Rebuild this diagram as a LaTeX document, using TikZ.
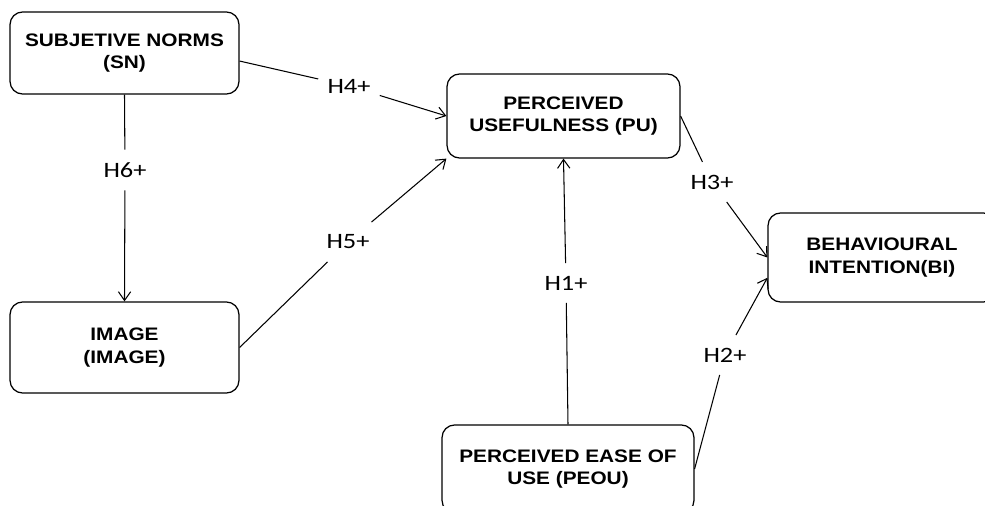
\documentclass[tikz,border=0pt]{standalone}
\usepackage{fontspec}
\setmainfont{Liberation Sans}[FakeStretch=1.15]
\newfontfamily\hypfont{Carlito}[FakeStretch=1.2]
\usetikzlibrary{arrows.meta}
\tikzset{
    construct/.style={draw,rounded corners=0.25cm,line width=0.7pt,inner sep=0pt,
        align=center,font=\fontsize{10.3}{13}\selectfont\bfseries},
    hyp/.style={inner xsep=5pt,inner ysep=7pt,font=\hypfont\fontsize{12.5}{14}\selectfont}
}
\begin{document}
\begin{tikzpicture}[x=0.02cm,y=-0.02cm,line width=0.6pt,>={Straight Barb[length=5pt,width=7pt]}]
    \useasboundingbox (0,0) rectangle (985,506);

    \node[construct,minimum width=4.58cm,minimum height=1.64cm] (sn) at (124.5,53) {SUBJETIVE NORMS\\(SN)};
    \node[construct,minimum width=4.66cm,minimum height=1.68cm] (pu) at (563.5,116) {PERCEIVED\\USEFULNESS (PU)};
    \node[construct,minimum width=4.56cm,minimum height=1.78cm] (bi) at (882,257.5) {BEHAVIOURAL\\INTENTION(BI)};
    \node[construct,minimum width=4.58cm,minimum height=1.82cm] (img) at (124.5,347.5) {IMAGE\\(IMAGE)};
    \node[construct,minimum width=5.04cm,minimum height=1.76cm] (peou) at (568,469) {PERCEIVED EASE OF\\USE (PEOU)};

    \node[hyp] (h4) at (349,86) {H4+};
    \node[hyp] (h5) at (348,242) {H5+};
    \node[hyp] (h6) at (125,170) {H6+};
    \node[hyp] (h1) at (566,283) {H1+};
    \node[hyp] (h3) at (712,182) {H3+};
    \node[hyp] (h2) at (725,355) {H2+};

    \draw (sn.-4) -- (h4) edge[->] (pu.west);
    \draw (img.east) -- (h5) edge[->] (pu.south west);
    \draw (sn.south) -- (h6) edge[->] (img.north);
    \draw (peou.north) -- (h1) edge[->] (pu.south);
    \draw (pu.east) -- (h3) edge[->] (bi.west);
    \draw (peou.east) -- (h2) edge[->] (bi.190);
\end{tikzpicture}
\end{document}
